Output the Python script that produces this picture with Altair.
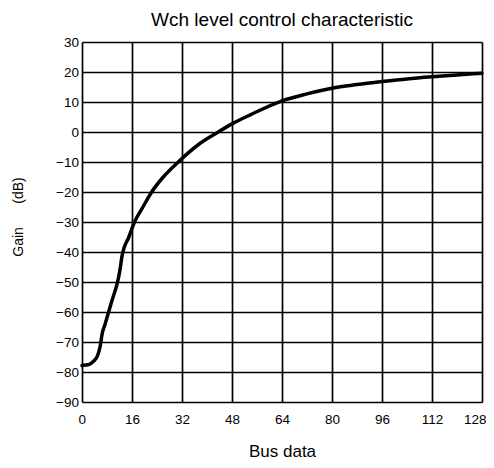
import altair as alt
import pandas as pd

bus = [0, 2, 3.6, 5, 5.8, 6.5, 7.4, 9.5, 11.6, 12.3, 12.7, 13.5, 14.8, 16.8, 19.5,
       22.3, 26, 30.8, 37.5, 43.6, 48, 54, 64, 72, 80, 88, 96, 104, 112, 120, 128]
gain = [-77.8, -77.6, -76.5, -74.5, -71.5, -67, -64, -56.5, -49, -45, -42, -38.5, -35.5, -30, -25,
        -20, -15, -10, -4.0, 0, 2.7, 5.8, 10.4, 12.7, 14.6, 15.8, 16.8, 17.7, 18.4, 19.0, 19.6]

x_ticks = [0, 16, 32, 48, 64, 80, 96, 112, 128]
y_ticks = [-90, -80, -70, -60, -50, -40, -30, -20, -10, 0, 10, 20, 30]

df = pd.DataFrame({"bus": bus, "gain": gain})

FONT = "Liberation Sans"
NB = "\u00a0"

chart = alt.Chart(df).mark_line(
    color="black", strokeWidth=3.5, interpolate="monotone", strokeCap="round"
).encode(
    x=alt.X("bus:Q",
            scale=alt.Scale(domain=[0, 128], nice=False, zero=False),
            axis=alt.Axis(values=x_ticks, title="Bus data", domain=False, ticks=False,
                          grid=True, gridColor="black", gridWidth=1.7, gridOpacity=1,
                          labelFont=FONT, labelFontSize=13.5, labelColor="black",
                          labelPadding=10, labelFlush=True, labelFlushOffset=4,
                          titleFont=FONT, titleFontSize=17, titleFontWeight="normal",
                          titleColor="black", titleBaseline="alphabetic", titleY=54)),
    y=alt.Y("gain:Q",
            scale=alt.Scale(domain=[-90, 30], nice=False, zero=False),
            axis=alt.Axis(values=y_ticks, title="Gain" + NB * 6 + "(dB)",
                          domain=False, ticks=False,
                          grid=True, gridColor="black", gridWidth=1.7, gridOpacity=1,
                          labelFont=FONT, labelFontSize=13.5, labelColor="black",
                          labelPadding=3.5, labelFlush=False,
                          titleFont=FONT, titleFontSize=14, titleFontWeight="normal",
                          titleColor="black", titleBaseline="alphabetic",
                          titleAlign="center", titleAngle=270, titleX=-60, titleY=174.5)),
).properties(
    width=400,
    height=360,
    title=alt.Title("Wch level control characteristic", font=FONT, fontSize=19,
                    fontWeight="normal", color="black", anchor="middle", offset=5),
    autosize=alt.AutoSizeParams(type="none"),
    padding={"left": 74, "top": 34, "right": 4, "bottom": 58},
).configure_view(
    stroke="black", strokeWidth=3
).configure(background="white")

chart.save("out.html", embed_options={"renderer": "svg", "actions": False})
